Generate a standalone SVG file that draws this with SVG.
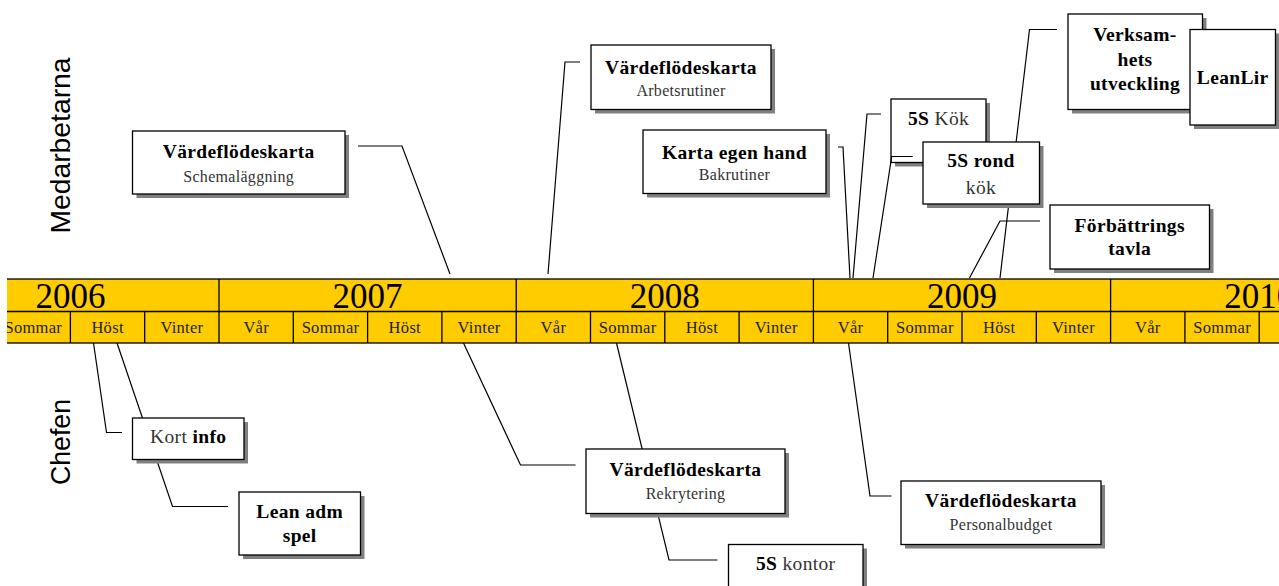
<svg xmlns="http://www.w3.org/2000/svg" width="1279" height="586" viewBox="0 0 1279 586">
<style>
.sh{fill:#808080}
.bx{fill:#fff;stroke:#000;stroke-width:1.3}
.t{font-family:"Liberation Serif",serif;font-weight:bold;font-size:19.5px;letter-spacing:.35px;text-anchor:middle;fill:#000}
.r{font-weight:normal;fill:#333}
.s{font-family:"Liberation Serif",serif;font-size:16px;letter-spacing:.3px;text-anchor:middle;fill:#333}
.conn polyline{fill:none;stroke:#000;stroke-width:1.2}
.yr{font-family:"Liberation Serif",serif;font-size:35px;text-anchor:middle;fill:#000}
.se{font-family:"Liberation Serif",serif;font-size:16.5px;letter-spacing:.3px;text-anchor:middle;fill:#222}
.ln{stroke:#000;stroke-width:1.3}
.side{font-family:"Liberation Sans",sans-serif;font-size:28px;text-anchor:middle;fill:#000}
</style>
<defs>
<clipPath id="barclip"><rect x="7" y="270" width="1272" height="80"/></clipPath>
</defs>
<rect width="1279" height="586" fill="#fff"/>

<!-- side labels -->
<text class="side" transform="translate(70,145.5) rotate(-90)" textLength="176" lengthAdjust="spacingAndGlyphs">Medarbetarna</text>
<text class="side" transform="translate(70,442) rotate(-90)" textLength="86" lengthAdjust="spacingAndGlyphs">Chefen</text>

<!-- timeline -->
<g id="timeline" clip-path="url(#barclip)">
<rect x="-80" y="279" width="1400" height="64" fill="#FFCC00" stroke="#000" stroke-width="1.3"/>
<line class="ln" x1="-80" y1="311.5" x2="1400" y2="311.5"/>
<g class="ln">
<line x1="219" y1="279" x2="219" y2="343"/>
<line x1="516.2" y1="279" x2="516.2" y2="343"/>
<line x1="813.4" y1="279" x2="813.4" y2="343"/>
<line x1="1110.6" y1="279" x2="1110.6" y2="343"/>
<line x1="70.4" y1="311.5" x2="70.4" y2="343"/>
<line x1="144.7" y1="311.5" x2="144.7" y2="343"/>
<line x1="293.3" y1="311.5" x2="293.3" y2="343"/>
<line x1="367.6" y1="311.5" x2="367.6" y2="343"/>
<line x1="441.9" y1="311.5" x2="441.9" y2="343"/>
<line x1="590.5" y1="311.5" x2="590.5" y2="343"/>
<line x1="664.8" y1="311.5" x2="664.8" y2="343"/>
<line x1="739.1" y1="311.5" x2="739.1" y2="343"/>
<line x1="887.7" y1="311.5" x2="887.7" y2="343"/>
<line x1="962" y1="311.5" x2="962" y2="343"/>
<line x1="1036.3" y1="311.5" x2="1036.3" y2="343"/>
<line x1="1184.9" y1="311.5" x2="1184.9" y2="343"/>
<line x1="1259.2" y1="311.5" x2="1259.2" y2="343"/>
</g>
<text class="yr" x="70.4" y="308">2006</text>
<text class="yr" x="367.6" y="308">2007</text>
<text class="yr" x="664.8" y="308">2008</text>
<text class="yr" x="962" y="308">2009</text>
<text class="yr" x="1259.2" y="308">2010</text>
<text class="se" x="33.3" y="333">Sommar</text>
<text class="se" x="107.6" y="333">Höst</text>
<text class="se" x="181.9" y="333">Vinter</text>
<text class="se" x="256.2" y="333">Vår</text>
<text class="se" x="330.5" y="333">Sommar</text>
<text class="se" x="404.8" y="333">Höst</text>
<text class="se" x="479.1" y="333">Vinter</text>
<text class="se" x="553.4" y="333">Vår</text>
<text class="se" x="627.7" y="333">Sommar</text>
<text class="se" x="702" y="333">Höst</text>
<text class="se" x="776.3" y="333">Vinter</text>
<text class="se" x="850.6" y="333">Vår</text>
<text class="se" x="924.9" y="333">Sommar</text>
<text class="se" x="999.2" y="333">Höst</text>
<text class="se" x="1073.5" y="333">Vinter</text>
<text class="se" x="1147.8" y="333">Vår</text>
<text class="se" x="1222.1" y="333">Sommar</text>
</g>

<!-- 5S Kök (behind connectors) -->
<g id="n-5s-kok">
<rect class="sh" x="895" y="103" width="95" height="63.5"/>
<rect class="bx" x="891" y="99" width="95" height="63.5"/>
<text class="t" x="938.5" y="125">5S<tspan class="r"> Kök</tspan></text>
</g>

<g id="connectors" class="conn">
<polyline points="358,146 402,146 450,274"/>
<polyline points="580,62 565,62 548,274"/>
<polyline points="838,147 843,147 850,278"/>
<polyline points="881,114 867,114 853,278"/>
<polyline points="873,278 891.7,156.5 912.7,156.5"/>
<polyline points="1057,29.5 1029.5,29.5 1000,278"/>
<polyline points="1040,221 1000,221 969.5,278"/>
<polyline points="93.5,343 106.5,432.5 122,432.5"/>
<polyline points="117,343 172.5,506.5 228,506.5"/>
<polyline points="463.5,343 520.5,465 575.5,465"/>
<polyline points="616.5,343 669,560 717.5,560"/>
<polyline points="848.5,343 870,496 891.5,496"/>
</g>

<g id="n-schema">
<rect class="sh" x="136.5" y="135" width="212.5" height="63"/>
<rect class="bx" x="132.5" y="131" width="212.5" height="63"/>
<text class="t" x="238.7" y="157.5">Värdeflödeskarta</text>
<text class="s" x="238.7" y="181.5">Schemaläggning</text>
</g>

<g id="n-arbets">
<rect class="sh" x="595" y="49" width="180" height="64.5"/>
<rect class="bx" x="591" y="45" width="180" height="64.5"/>
<text class="t" x="681" y="74">Värdeflödeskarta</text>
<text class="s" x="681" y="95.5">Arbetsrutiner</text>
</g>

<g id="n-karta">
<rect class="sh" x="647" y="134" width="183" height="63.5"/>
<rect class="bx" x="643" y="130" width="183" height="63.5"/>
<text class="t" x="734.5" y="158.5">Karta egen hand</text>
<text class="s" x="734.5" y="179.5">Bakrutiner</text>
</g>

<g id="n-5s-rond">
<rect class="sh" x="927" y="146" width="116.5" height="62"/>
<rect class="bx" x="923" y="142" width="116.5" height="62"/>
<text class="t" x="981" y="167">5S rond</text>
<text class="t r" x="981" y="193.5">kök</text>
</g>

<g id="n-verksamhet">
<rect class="sh" x="1072" y="18" width="134.5" height="95.5"/>
<rect class="bx" x="1068" y="14" width="134.5" height="95.5"/>
<text class="t" x="1135" y="41">Verksam-</text>
<text class="t" x="1135" y="65.5">hets</text>
<text class="t" x="1135" y="90">utveckling</text>
</g>

<g id="n-leanlir">
<rect class="sh" x="1194" y="33.5" width="85.5" height="95.5"/>
<rect class="bx" x="1190" y="29.5" width="85.5" height="95.5"/>
<text class="t" x="1232.7" y="84">LeanLir</text>
</g>

<g id="n-forbattring">
<rect class="sh" x="1054" y="209" width="159.5" height="64"/>
<rect class="bx" x="1050" y="205" width="159.5" height="64"/>
<text class="t" x="1129.7" y="231.5">Förbättrings</text>
<text class="t" x="1129.7" y="255">tavla</text>
</g>

<g id="n-kort">
<rect class="sh" x="136.5" y="422" width="111.5" height="41.5"/>
<rect class="bx" x="132.5" y="418" width="111.5" height="41.5"/>
<text class="t" x="188.2" y="443"><tspan class="r">Kort </tspan>info</text>
</g>

<g id="n-leanadm">
<rect class="sh" x="243" y="496" width="121.5" height="63"/>
<rect class="bx" x="239" y="492" width="121.5" height="63"/>
<text class="t" x="299.7" y="517.5">Lean adm</text>
<text class="t" x="299.7" y="541.5">spel</text>
</g>

<g id="n-rekrytering">
<rect class="sh" x="590" y="453" width="199" height="64.5"/>
<rect class="bx" x="586" y="449" width="199" height="64.5"/>
<text class="t" x="685.5" y="476">Värdeflödeskarta</text>
<text class="s" x="685.5" y="498.5">Rekrytering</text>
</g>

<g id="n-5s-kontor">
<rect class="sh" x="732.5" y="548.5" width="134.5" height="50"/>
<rect class="bx" x="728.5" y="544.5" width="134.5" height="50"/>
<text class="t" x="795.7" y="570">5S<tspan class="r"> kontor</tspan></text>
</g>

<g id="n-personal">
<rect class="sh" x="905" y="485" width="200" height="63.5"/>
<rect class="bx" x="901" y="481" width="200" height="63.5"/>
<text class="t" x="1001" y="506.5">Värdeflödeskarta</text>
<text class="s" x="1001" y="529.5">Personalbudget</text>
</g>
</svg>
